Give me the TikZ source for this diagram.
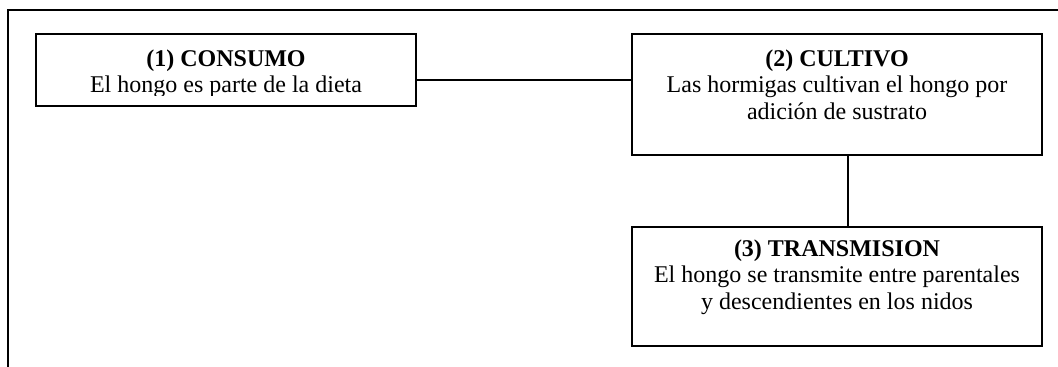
\documentclass[tikz,border=0pt]{standalone}
\usepackage{fontspec}
\setmainfont{Liberation Serif}
\begin{document}
\begin{tikzpicture}[x=0.5pt,y=-0.5pt,
  box/.style={draw,line width=1pt,inner sep=0pt,minimum width=205pt},
  txt/.style={anchor=base,inner sep=0pt,font=\fontsize{12pt}{13pt}\selectfont},
  ttl/.style={txt,font=\fontsize{12pt}{13pt}\selectfont\bfseries},
  conn/.style={draw,line width=0.8pt},
  frame/.style={draw,line width=1pt}]
\useasboundingbox (0,0) rectangle (1058,367);
% outer frame (top and left edges only)
\draw[frame] (1058,10) -- (8,10) -- (8,367);
% boxes
\node[box,minimum width=190pt,minimum height=36pt] (b1) at (226,70) {};
\node[box,minimum height=60.5pt] (b2) at (837,94.5) {};
\node[box,minimum height=59.5pt] (b3) at (837,286.5) {};
% texts
\node[ttl] (t1a) at (226,67) {(1) CONSUMO};
\begin{scope}
  \clip (36,34) rectangle (416,95.5);
  \node[txt] (t1b) at (226,93) {El hongo es parte de la dieta};
\end{scope}
\node[ttl] (t2a) at (837,67) {(2) CULTIVO};
\node[txt] (t2b) at (837,93) {Las hormigas cultivan el hongo por};
\node[txt] (t2c) at (837,120) {adición de sustrato};
\node[ttl] (t3a) at (837,257) {(3) TRANSMISION};
\node[txt] (t3b) at (837,283) {El hongo se transmite entre parentales};
\node[txt] (t3c) at (837,310) {y descendientes en los nidos};
% connectors
\draw[conn] ([yshift=-5pt]b1.east) -- ([yshift=-5pt]b1.east -| b2.west);
\draw[conn] ([xshift=5.5pt]b2.south) -- ([xshift=5.5pt]b2.south |- b3.north);
\end{tikzpicture}
\end{document}
